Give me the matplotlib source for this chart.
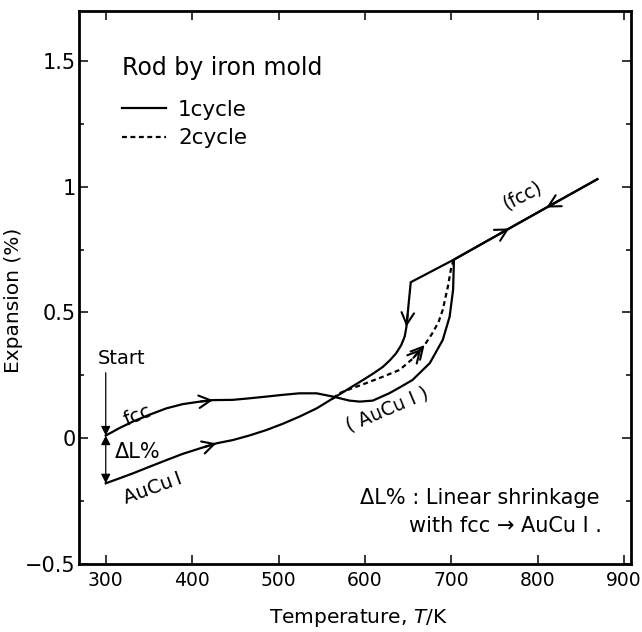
import numpy as np
import matplotlib
matplotlib.use('Agg')
import matplotlib.pyplot as plt
from matplotlib.lines import Line2D
from matplotlib.ticker import MultipleLocator

# Dilatometer curves of the AuCu rod cast in an iron mold
# T in K, L = expansion in %

# 1st heating, starting from quenched fcc
T_heat1 = [300, 316, 331, 350, 370, 389, 409, 424, 447, 466, 486, 505, 524, 544,
           563, 582, 594, 609, 628, 641, 655, 675, 690, 698, 702, 703, 767, 869]
L_heat1 = [0.01, 0.04, 0.065, 0.092, 0.118, 0.135, 0.145, 0.151, 0.152, 0.158,
           0.165, 0.172, 0.178, 0.178, 0.165, 0.149, 0.145, 0.149, 0.178, 0.203,
           0.231, 0.298, 0.39, 0.483, 0.59, 0.71, 0.834, 1.03]

# 1st cooling, from 870 K down to where it joins the AuCu I branch
T_cool1 = [869, 810, 703, 653, 651, 648, 646, 642, 636, 629, 621, 611, 601, 582, 563]
L_cool1 = [1.03, 0.917, 0.71, 0.62, 0.55, 0.443, 0.404, 0.37, 0.337, 0.31, 0.284,
           0.26, 0.238, 0.198, 0.158]

# low temperature AuCu I branch (end of cooling / start of 2nd heating)
T_low = [300, 316, 331, 350, 370, 389, 409, 428, 447, 466, 486, 505, 524, 544, 563]
L_low = [-0.18, -0.16, -0.141, -0.115, -0.088, -0.063, -0.041, -0.021, -0.008,
         0.01, 0.032, 0.057, 0.085, 0.118, 0.158]

# 2nd heating above ~560 K
T_heat2 = [563, 570, 585, 601, 620, 640, 655, 669, 678, 685, 690, 696, 700, 703]
L_heat2 = [0.158, 0.178, 0.198, 0.218, 0.243, 0.271, 0.315, 0.37, 0.417, 0.46,
           0.51, 0.603, 0.682, 0.71]

xticks = [300, 400, 500, 600, 700, 800, 900]
yticks = [-0.5, 0, 0.5, 1, 1.5]
yticklabels = ['\u22120.5', '0', '0.5', '1', '1.5']

plt.rcParams['font.family'] = 'DejaVu Sans'
plt.rcParams['font.size'] = 15

fig = plt.figure(figsize=(6.42, 6.32), dpi=100)
ax = fig.add_axes([0.123, 0.108, 0.860, 0.875])
ax.set_xlim(269, 908)
ax.set_ylim(-0.5, 1.70)

ax.set_xticks(xticks)
ax.set_yticks(yticks)
ax.set_yticklabels(yticklabels)
ax.yaxis.set_minor_locator(MultipleLocator(0.25))
ax.tick_params(which='both', direction='in', top=True, right=True, width=1.1)
ax.tick_params(which='major', length=6.5)
ax.tick_params(which='minor', length=3.5)
ax.tick_params(axis='x', pad=5, labelsize=13.5)
ax.tick_params(axis='y', pad=2.5, labelsize=15)
for s in ax.spines.values():
    s.set_linewidth(2)

ax.set_xlabel('Temperature, $T$/K', fontsize=14.5)
ax.set_ylabel('Expansion (%)', fontsize=14.5)
ax.xaxis.set_label_coords(0.507, -0.078)
ax.yaxis.set_label_coords(-0.101, 0.477)

lw = 1.6
dots = (0, (2.2, 1.6))
ax.plot(T_heat1, L_heat1, '-k', lw=lw)
ax.plot(T_cool1, L_cool1, '-k', lw=lw)
ax.plot(T_low, L_low, '-k', lw=lw)
ax.plot(T_heat2, L_heat2, color='k', lw=lw, linestyle=dots)


def chevron(T, L, i, n=1, size=12, gap=5):
    # open arrowhead sitting on the curve at point i, pointing away from i-1
    p0 = ax.transData.transform((T[i-1], L[i-1]))
    p1 = ax.transData.transform((T[i], L[i]))
    d = (p1 - p0) / np.hypot(*(p1 - p0))
    for k in range(n):
        tip = p1 - k * gap * d
        ax.annotate('', xy=tip, xytext=tip - size * d,
                    xycoords='figure pixels', textcoords='figure pixels',
                    arrowprops=dict(arrowstyle='->,head_length=0.85,head_width=0.45',
                                    lw=1.5, color='k', shrinkA=0, shrinkB=0,
                                    mutation_scale=10))


chevron(T_heat1, L_heat1, 7)
chevron(T_heat1, L_heat1, 26)
chevron(T_cool1, L_cool1, 1)
chevron(T_cool1, L_cool1, 5)
chevron(T_low, L_low, 7)
chevron(T_heat2, L_heat2, 7, n=2)

# Start marker and the shrinkage between the two branches at 300 K
ax.annotate('', xy=(T_heat1[0], L_heat1[0]), xytext=(T_heat1[0], 0.26),
            arrowprops=dict(arrowstyle='-|>,head_length=0.55,head_width=0.28',
                            lw=0.9, color='k', shrinkA=0, shrinkB=0, mutation_scale=10))
ax.annotate('', xy=(T_low[0], L_low[0]), xytext=(T_heat1[0], L_heat1[0]),
            arrowprops=dict(arrowstyle='<|-|>,head_length=0.55,head_width=0.28',
                            lw=0.9, color='k', shrinkA=0, shrinkB=0, mutation_scale=10))
ax.text(318, 0.315, 'Start', ha='center', va='center', fontsize=14)
ax.text(310, -0.055, '\u0394L%', ha='left', va='center', fontsize=15)
ax.text(337, 0.09, 'fcc', ha='center', va='center', fontsize=14, rotation=22)
ax.text(355, -0.2, 'AuCu\u2009\u2160', ha='center', va='center', fontsize=14, rotation=20)
ax.text(626, 0.115, '( AuCu \u2160 )', ha='center', va='center', fontsize=13.5, rotation=23)
ax.text(782, 0.965, '(fcc)', ha='center', va='center', fontsize=13.5, rotation=27)

ax.text(871, -0.24, '\u0394L% : Linear shrinkage', ha='right', va='center', fontsize=15)
ax.text(874, -0.35, 'with fcc \u2192 AuCu \u2160 .', ha='right', va='center', fontsize=15)

handles = [Line2D([], [], color='k', lw=lw),
           Line2D([], [], color='k', lw=lw, linestyle=dots)]
leg = ax.legend(handles, ['1cycle', '2cycle'], title='Rod by iron mold',
                loc='upper left', bbox_to_anchor=(0.078, 0.918), frameon=False,
                borderpad=0, borderaxespad=0, handlelength=2.05, handletextpad=0.55,
                labelspacing=0.39, fontsize=15.5, title_fontsize=17)
leg._legend_box.align = 'left'
leg._legend_box.sep = 14.3

fig.savefig('out.png', dpi=100)
